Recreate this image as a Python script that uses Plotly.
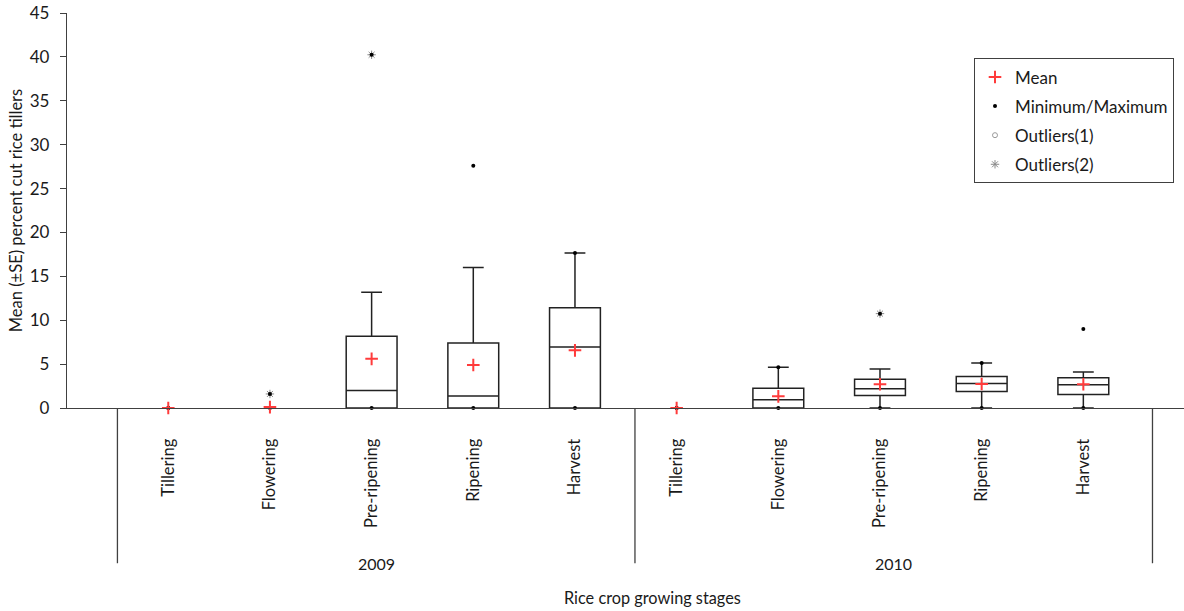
import plotly.graph_objects as go

# ---- data ----
stages = ["Tillering", "Flowering", "Pre-ripening", "Ripening", "Harvest"]
years = ["2009", "2010"]
x_labels = stages + stages
x_pos = list(range(10))

q1 = [0, 0, 0, 0, 0, 0, 0, 1.41, 1.87, 1.53]
median = [0, 0, 2.0, 1.37, 6.95, 0, 0.95, 2.2, 2.78, 2.66]
q3 = [0, 0, 8.17, 7.4, 11.43, 0, 2.24, 3.27, 3.6, 3.46]
lower_whisker = [0, 0, 0, 0, 0, 0, 0, 0, 0, 0]
upper_whisker = [0, 0, 13.2, 16.0, 17.65, 0, 4.64, 4.45, 5.13, 4.1]
means = [0, 0.1, 5.6, 4.9, 6.57, 0, 1.33, 2.7, 2.73, 2.7]
minimum = [0, 0, 0, 0, 0, 0, 0, 0, 0, 0]
maximum = [0, 1.6, 40.24, 27.6, 17.65, 0, 4.64, 10.75, 5.13, 9.0]
outlier2_x = [1, 2, 7]
outlier2_y = [1.6, 40.24, 10.75]
outlier1_x = []
outlier1_y = []

# group geometry in category units
divider_pos = [-0.5, 4.59, 9.68]
year_pos = [2.045, 7.135]

FONT = "Lato"
TXT = "#1a1a1a"
AX = "#404040"

# degenerate (all-zero) boxes are not drawn, as in the reference
keep = [i for i in x_pos if upper_whisker[i] > 0]

fig = go.Figure()

fig.add_trace(go.Box(
    x=[x_pos[i] for i in keep], q1=[q1[i] for i in keep],
    median=[median[i] for i in keep], q3=[q3[i] for i in keep],
    lowerfence=[lower_whisker[i] for i in keep],
    upperfence=[upper_whisker[i] for i in keep],
    width=0.5, whiskerwidth=0.41, boxpoints=False,
    line=dict(color="#222222", width=1.5), fillcolor="white",
    showlegend=False, hoverinfo="skip",
))

fig.add_trace(go.Scatter(
    x=outlier1_x if outlier1_x else [None], y=outlier1_y if outlier1_y else [None],
    mode="markers", name="Outliers(1)", legendgroup="c", legendrank=3,
    marker=dict(symbol="circle-open", size=5, color="#9a9a9a",
                line=dict(color="#9a9a9a", width=1)),
    cliponaxis=False,
))

fig.add_trace(go.Scatter(
    x=outlier2_x, y=outlier2_y, mode="markers", name="Outliers(2)",
    legendgroup="d", legendrank=4,
    marker=dict(symbol="asterisk-open", size=7, color="#8a8a8a",
                line=dict(color="#8a8a8a", width=1)),
    cliponaxis=False,
))

fig.add_trace(go.Scatter(
    x=x_pos + x_pos, y=minimum + maximum, mode="markers",
    name="Minimum/Maximum", legendgroup="b", legendrank=2,
    marker=dict(symbol="circle", size=4, color="#000000"),
    cliponaxis=False,
))

fig.add_trace(go.Scatter(
    x=x_pos, y=means, mode="markers", name="Mean",
    legendgroup="a", legendrank=1,
    marker=dict(symbol="cross-thin-open", size=9, color="#ff3b3b",
                line=dict(color="#ff3b3b", width=2)),
    cliponaxis=False,
))

# dividers below x axis
for d in divider_pos:
    fig.add_shape(type="line", xref="x", yref="paper", x0=d, x1=d,
                  y0=0, y1=-0.393, line=dict(color=AX, width=1.3))

annotations = []
for yr, p in zip(years, year_pos):
    annotations.append(dict(x=p, y=-0.393, xref="x", yref="paper", text=yr,
                            showarrow=False, yanchor="middle",
                            font=dict(family=FONT, size=16, color=TXT)))
annotations.append(dict(x=0.524, y=-0.481, xref="paper", yref="paper",
                        text="Rice crop growing stages", showarrow=False,
                        yanchor="middle",
                        font=dict(family=FONT, size=16.3, color=TXT)))

fig.update_layout(
    width=1184, height=611,
    margin=dict(l=67, r=0, t=13, b=203),
    plot_bgcolor="white", paper_bgcolor="white",
    font=dict(family=FONT, size=15, color=TXT),
    annotations=annotations,
    legend=dict(x=0.812, y=0.885, xanchor="left", yanchor="top",
                bordercolor=AX, borderwidth=1, bgcolor="white",
                font=dict(family=FONT, size=17, color=TXT),
                traceorder="grouped", tracegroupgap=4, itemwidth=30),
    xaxis=dict(range=[-0.996, 9.99], tickvals=x_pos, ticktext=x_labels,
               tickangle=-90, ticks="", showgrid=False, zeroline=False,
               showline=True, linecolor=AX, linewidth=1.3,
               ticklabelstandoff=23, automargin=False,
               tickfont=dict(family=FONT, size=16.5, color=TXT)),
    yaxis=dict(range=[0, 45], dtick=5, ticks="outside", ticklen=6,
               tickcolor=AX, tickwidth=1.3, showgrid=False, zeroline=False,
               showline=True, linecolor=AX, linewidth=1.3,
               ticklabelstandoff=7, ticklabeloverflow="allow",
               automargin=False,
               tickfont=dict(family=FONT, size=17, color=TXT),
               title=dict(text="Mean (±SE) percent cut rice tillers",
                          standoff=2,
                          font=dict(family=FONT, size=16.5, color=TXT))),
)

# remove the browser's default 8px page margin so the figure fills the window
fig.write_html("out.html",
               config={"displayModeBar": False},
               post_script="document.body.style.margin='0';"
                           "document.body.style.overflow='hidden';")
